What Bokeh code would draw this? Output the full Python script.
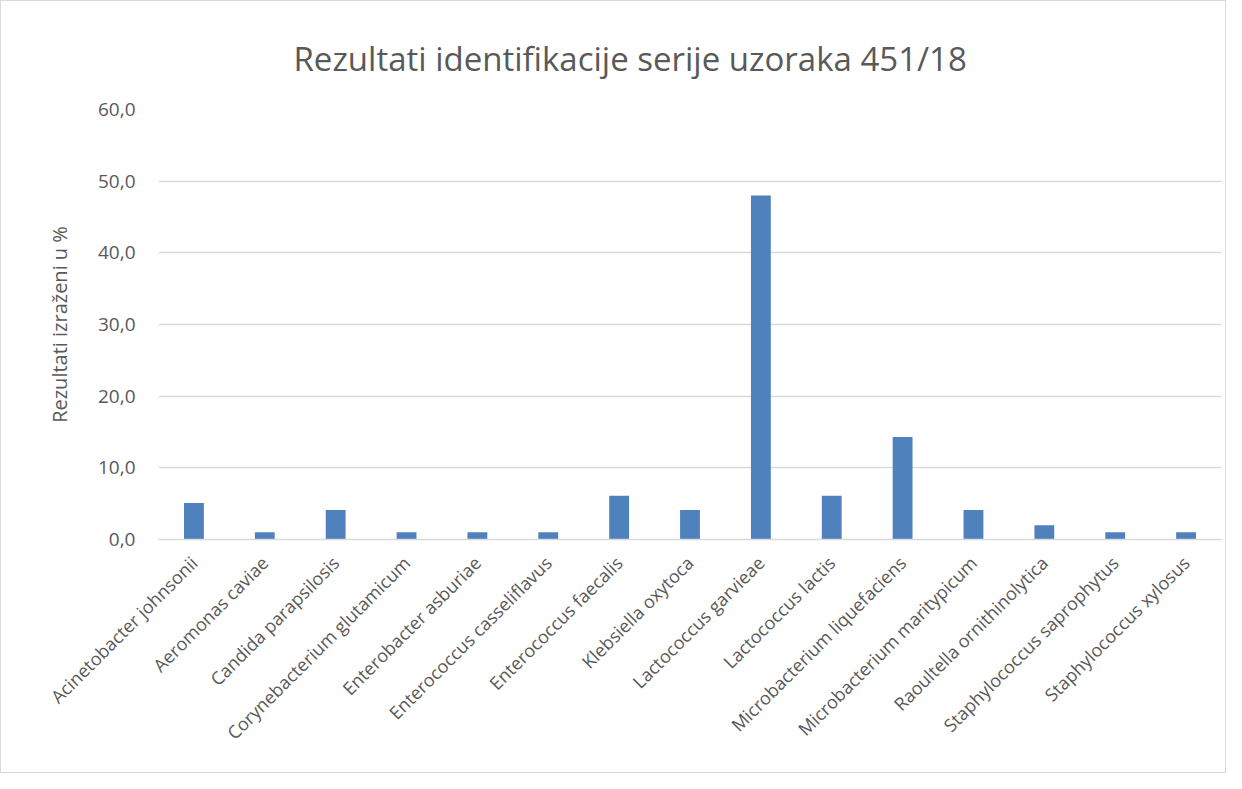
import math
from bokeh.plotting import figure
from bokeh.models import ColumnDataSource, FactorRange, Range1d, FixedTicker, CustomJSTickFormatter
from bokeh.embed import file_html
from bokeh.resources import INLINE

categories = [
    "Acinetobacter johnsonii", "Aeromonas caviae", "Candida parapsilosis",
    "Corynebacterium glutamicum", "Enterobacter asburiae", "Enterococcus casseliflavus",
    "Enterococcus faecalis", "Klebsiella oxytoca", "Lactococcus garvieae",
    "Lactococcus lactis", "Microbacterium liquefaciens", "Microbacterium maritypicum",
    "Raoultella ornithinolytica", "Staphylococcus saprophytus", "Staphylococcus xylosus",
]
values = [5.1, 1.0, 4.1, 1.0, 1.0, 1.0, 6.1, 4.1, 48.0, 6.1, 14.3, 4.1, 2.0, 1.0, 1.0]
y_ticks = [0, 10, 20, 30, 40, 50, 60]

title = "Rezultati identifikacije serije uzoraka 451/18"
y_title = "Rezultati izraženi u %"

FONT = "Open Sans"
GRAY = "#595959"

src = ColumnDataSource(dict(cat=categories, val=values))

p = figure(
    x_range=FactorRange(*categories, range_padding=0),
    y_range=Range1d(0, 60),
    width=1226, height=773,
    output_backend="svg", toolbar_location=None,
    min_border_left=157, min_border_right=6, min_border_top=108, min_border_bottom=235,
)
p.styles = {"border": "1px solid #d9d9d9"}

p.title.text = title
p.title.align = "left"
p.title.text_font = FONT
p.title.text_font_style = "normal"
p.title.text_font_size = "33px"
p.title.text_color = GRAY
p.title.offset = 135
p.title.standoff = 57

p.vbar(x="cat", top="val", width=0.28, source=src, color="#4f81bd", line_color=None)

p.outline_line_color = None
p.xgrid.grid_line_color = None
p.ygrid.grid_line_color = "#d9d9d9"
p.ygrid.grid_line_width = 1.3

p.yaxis.ticker = FixedTicker(ticks=y_ticks)
p.yaxis.formatter = CustomJSTickFormatter(code="return tick.toFixed(1).replace('.', ',');")
p.yaxis.axis_line_color = None
p.yaxis.major_tick_line_color = None
p.yaxis.minor_tick_line_color = None
p.yaxis.major_label_text_font = FONT
p.yaxis.major_label_text_font_size = "19px"
p.yaxis.major_label_text_color = GRAY
p.yaxis.major_label_standoff = 17
p.yaxis.axis_label = y_title
p.yaxis.axis_label_text_font = FONT
p.yaxis.axis_label_text_font_style = "normal"
p.yaxis.axis_label_text_font_size = "20px"
p.yaxis.axis_label_text_color = GRAY
p.yaxis.axis_label_standoff = 22

p.xaxis.axis_line_color = "#d9d9d9"
p.xaxis.axis_line_width = 1.5
p.xaxis.major_tick_line_color = None
p.xaxis.minor_tick_line_color = None
p.xaxis.major_label_orientation = math.pi / 4
p.xaxis.major_label_text_font = FONT
p.xaxis.major_label_text_font_size = "18px"
p.xaxis.major_label_text_color = GRAY
p.xaxis.major_label_standoff = 14

p.background_fill_color = "white"
p.border_fill_color = "white"

open("out.html", "w").write(file_html(p, INLINE))
